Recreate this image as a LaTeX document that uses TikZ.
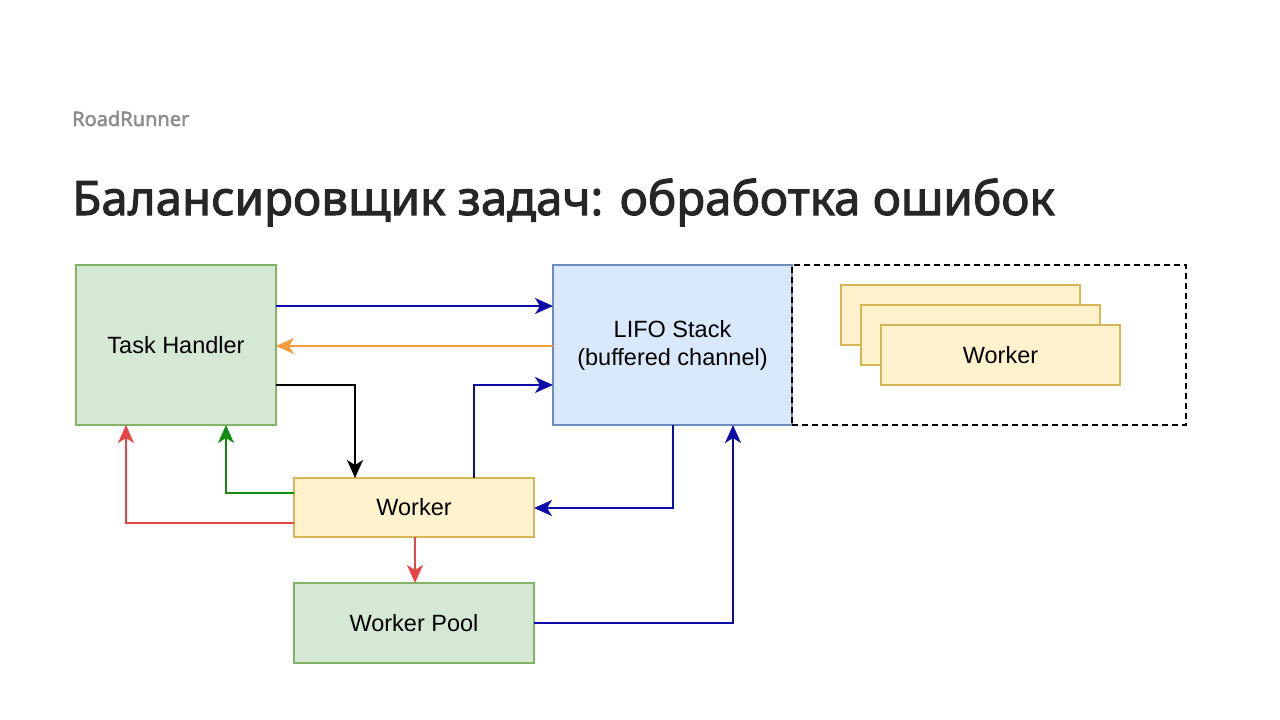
\documentclass[tikz,border=0pt]{standalone}
\usepackage{fontspec}
\setmainfont{Liberation Sans}
\newfontfamily\titlefont{Noto Sans}[AutoFakeBold=2.2]
\usetikzlibrary{arrows.meta, positioning}

\definecolor{grnfill}{HTML}{D5E8D4}
\definecolor{grnline}{HTML}{82B366}
\definecolor{bluefill}{HTML}{DAE8FC}
\definecolor{blueline}{HTML}{6C8EBF}
\definecolor{ylwfill}{HTML}{FFF2CC}
\definecolor{ylwline}{HTML}{D6B656}
\definecolor{arrblue}{HTML}{0C0CA8}
\definecolor{arrorange}{HTML}{F39C3C}
\definecolor{arrred}{HTML}{E64545}
\definecolor{arrgreen}{HTML}{108C10}

\tikzset{
  greenbox/.style={draw=grnline, fill=grnfill, line width=1.5pt, inner sep=0, outer sep=0},
  bluebox/.style={draw=blueline, fill=bluefill, line width=1.5pt, inner sep=0, outer sep=0},
  yellowbox/.style={draw=ylwline, fill=ylwfill, line width=1.5pt, inner sep=0, outer sep=0},
  link/.style={-{Stealth[length=18pt, width=16pt, inset=5pt]}, line width=2pt}
}

\begin{document}
\begin{tikzpicture}[x=1pt, y=-1pt, font=\fontsize{23.5}{28}\selectfont, align=center]
  \useasboundingbox (0,0) rectangle (1280,720);

  \node[anchor=base west, inner sep=0, text=black!45,
    font=\titlefont\bfseries\fontsize{20}{22}\selectfont] (brand) at (72,126) {RoadRunner};
  \node[anchor=base west, inner sep=0, text=black!85,
    font=\titlefont\bfseries\fontsize{47.5}{50}\selectfont] (title) at (72,215) {Балансировщик задач: обработка ошибок};

  \node[greenbox, minimum width=200, minimum height=160] (th) at (176,345) {Task Handler};
  \node[bluebox, minimum width=239, minimum height=160, right=277 of th] (lifo) {LIFO Stack\\(buffered channel)};
  \node[draw, dashed, dash pattern=on 6pt off 4pt, line width=1.5pt, inner sep=0, outer sep=0,
    minimum width=394, minimum height=160, right=0 of lifo] (workers) {};
  \node[yellowbox, minimum width=240, minimum height=59] (wk) at (414,507.5) {Worker};
  \node[greenbox, minimum width=240, minimum height=80] (pool) at (414,623) {Worker Pool};

  \node[yellowbox, minimum width=239, minimum height=60] (wk1) at (960.5,315) {};
  \node[yellowbox, minimum width=239, minimum height=60] (wk2) at (980.5,335) {};
  \node[yellowbox, minimum width=239, minimum height=60] (wk3) at (1000.5,355) {Worker};

  \draw[link, arrblue] (th.east |- 0,306) -- (lifo.west |- 0,306);
  \draw[link, arrorange] (lifo.west |- 0,346) -- (th.east |- 0,346);
  \draw[link, black] (th.east |- 0,385) -| (wk.north -| 355,0);
  \draw[link, arrblue] (wk.north -| 474,0) |- (lifo.west |- 0,385);
  \draw[link, arrgreen] (wk.west |- 0,493) -| (th.south -| 226,0);
  \draw[link, arrred] (wk.west |- 0,523) -| (th.south -| 126,0);
  \draw[link, arrred] (wk.south -| 415,0) -- (pool.north -| 415,0);
  \draw[link, arrblue] (lifo.south -| 673,0) |- (wk.east |- 0,508);
  \draw[link, arrblue] (pool.east) -| (lifo.south -| 733,0);
\end{tikzpicture}
\end{document}
